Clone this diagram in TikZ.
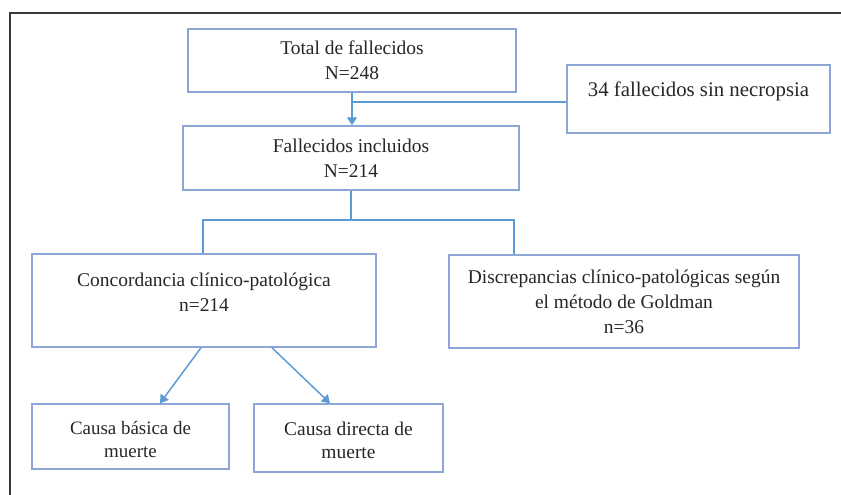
\documentclass[tikz,border=0pt]{standalone}
\usepackage{fontspec}
\setmainfont{Liberation Serif}
\usetikzlibrary{arrows.meta}
\definecolor{boxline}{HTML}{8EA6D6}
\definecolor{conn}{HTML}{5B9BD5}
\definecolor{frame}{HTML}{383838}
\tikzset{
  box/.style={draw=boxline, line width=1.1pt, rectangle, align=center, inner sep=0pt,
    font=\fontsize{14.6}{18.75}\selectfont, text=black!85},
  link/.style={draw=conn, line width=1.1pt},
  arr/.style={link, -{Triangle[width=7.5pt,length=6pt]}},
}
\begin{document}
\begin{tikzpicture}[x=0.75pt,y=-0.75pt]
\useasboundingbox (0,0) rectangle (841,495);
\draw[frame, line width=1.8pt] (10,495) -- (10,13) -- (841,13);

\node[box, minimum width=328*0.75pt, minimum height=63*0.75pt] (total) at (352,60.5)
  {Total de fallecidos\\N=248};
\node[box, minimum width=263*0.75pt, minimum height=68*0.75pt,
  font=\fontsize{15.6}{18.75}\selectfont] (sin) at (698.5,99)
  {\rule{0pt}{20pt}34 fallecidos sin necropsia\\ \strut};
\node[box, minimum width=336*0.75pt, minimum height=64*0.75pt] (incl) at (351,158)
  {Fallecidos incluidos\\N=214};
\node[box, minimum width=344*0.75pt, minimum height=93*0.75pt] (conc) at (204,300.5)
  {\rule{0pt}{22pt}Concordancia clínico-patológica\\n=214\\ \strut};
\node[box, minimum width=350*0.75pt, minimum height=93*0.75pt] (disc) at (624,301.5)
  {Discrepancias clínico-patológicas según\\el método de Goldman\\n=36};
\node[box, minimum width=197*0.75pt, minimum height=65*0.75pt,
  font=\fontsize{14.2}{17.5}\selectfont] (basica) at (130.5,436.5)
  {\rule{0pt}{14pt}Causa básica de\\muerte};
\node[box, minimum width=189*0.75pt, minimum height=68*0.75pt,
  font=\fontsize{14.6}{17.5}\selectfont] (directa) at (348.5,438)
  {\rule{0pt}{14pt}Causa directa de\\muerte};

\coordinate (split) at (351,220);
\coordinate (excl) at ([yshift=-2.2pt]sin.west);
\draw[arr] (total.south) -- (incl.north -| total.south);
\draw[link] (excl) -- (excl -| total.south);
\draw[link] (incl.south) -- (split);
\draw[link] (conc.north -| 203,0) |- (split) -| (disc.north -| 514,0);
\draw[arr] (conc.south -| 201,0) -- (basica.north -| 160,0);
\draw[arr] (conc.south -| 272,0) -- (directa.north -| 330,0);
\end{tikzpicture}
\end{document}
